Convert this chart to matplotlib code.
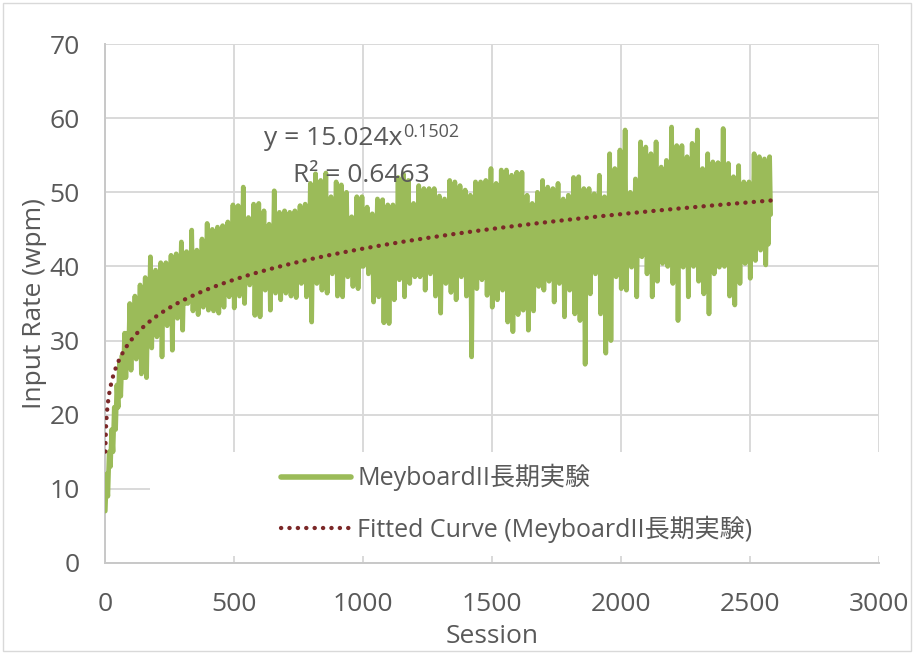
import numpy as np
import matplotlib
matplotlib.use("Agg")
import matplotlib.pyplot as plt
from matplotlib.patches import Rectangle
from matplotlib.lines import Line2D

# ---- data -------------------------------------------------------------
# Input rate per session, recorded every 20 sessions as four readings:
# the extreme trough, the upper edge of the dense band, the lower edge
# of the dense band and the extreme peak.
trough_wpm = [
    7.0, 13.0, 18.0, 22.5, 25.0, 26.0, 27.5, 25.5, 25.0, 29.0,
    30.5, 27.8, 32.0, 28.7, 33.0, 31.4, 35.0, 34.0, 33.5, 34.5,
    34.1, 34.0, 33.7, 34.5, 35.9, 34.4, 36.0, 35.0, 37.5, 33.4,
    33.2, 36.8, 34.1, 36.4, 35.5, 36.4, 36.0, 35.8, 37.7, 35.9,
    32.5, 37.7, 36.8, 36.4, 39.0, 36.0, 35.9, 38.6, 37.3, 37.0,
    40.0, 39.0, 35.2, 35.9, 32.4, 32.3, 35.5, 38.2, 35.9, 37.7,
    38.6, 38.6, 36.8, 39.0, 36.0, 33.7, 37.7, 36.5, 35.5, 38.6,
    36.0, 27.8, 37.0, 38.2, 36.1, 34.5, 35.5, 36.8, 32.5, 31.2,
    33.5, 34.1, 31.4, 34.0, 37.3, 36.8, 38.0, 35.2, 37.7, 33.2,
    36.8, 33.6, 32.7, 26.8, 36.3, 39.0, 33.6, 28.3, 30.0, 38.6,
    37.0, 36.8, 39.9, 35.9, 41.3, 39.0, 35.9, 38.0, 40.4, 40.0,
    37.7, 32.7, 39.9, 35.9, 40.0, 38.0, 36.3, 33.6, 39.0, 39.9,
    40.0, 36.0, 34.8, 37.7, 40.4, 38.4, 40.8, 42.2, 40.2,
]
band_top_wpm = [
    12.0, 18.0, 24.0, 28.0, 31.0, 33.0, 34.0, 35.0, 36.0, 37.0,
    38.0, 38.5, 39.0, 39.5, 40.0, 40.5, 41.0, 41.0, 41.5, 42.0,
    42.5, 42.5, 43.0, 43.0, 43.5, 44.0, 44.0, 44.5, 44.0, 44.5,
    44.5, 44.0, 45.0, 44.5, 45.0, 45.0, 45.0, 45.5, 45.5, 46.0,
    46.5, 46.0, 46.5, 46.0, 46.5, 46.5, 46.0, 45.5, 46.0, 46.0,
    45.5, 45.5, 46.0, 45.5, 45.5, 45.5, 46.5, 47.0, 47.0, 46.0,
    47.0, 46.5, 47.0, 47.0, 46.5, 46.5, 47.0, 47.0, 47.0, 47.0,
    47.0, 47.5, 47.5, 47.5, 48.0, 47.5, 48.0, 48.0, 48.0, 48.0,
    48.0, 47.5, 47.0, 47.5, 47.5, 47.5, 47.5, 48.0, 47.5, 47.5,
    48.0, 48.0, 47.5, 47.5, 48.0, 48.0, 47.5, 49.0, 49.0, 50.0,
    50.5, 49.0, 49.5, 50.5, 51.0, 51.0, 50.5, 50.0, 50.5, 51.5,
    51.0, 51.0, 50.5, 51.0, 51.5, 50.5, 51.0, 50.5, 50.5, 51.5,
    51.0, 50.0, 50.5, 50.0, 50.0, 51.0, 51.5, 51.5, 51.5,
]
band_bottom_wpm = [
    9.0, 15.0, 21.0, 25.0, 27.5, 29.0, 30.0, 31.0, 31.5, 32.0,
    33.0, 33.0, 34.0, 34.0, 35.0, 35.0, 36.0, 36.0, 36.5, 37.0,
    37.0, 37.0, 37.5, 37.5, 38.0, 38.0, 38.5, 38.5, 39.0, 38.5,
    38.5, 39.0, 39.0, 39.0, 39.5, 39.5, 39.5, 39.5, 40.0, 40.0,
    39.5, 40.0, 40.0, 40.0, 40.5, 40.0, 40.0, 40.5, 40.0, 40.0,
    40.5, 40.5, 40.0, 40.0, 39.5, 39.5, 40.0, 40.5, 40.0, 40.5,
    40.5, 40.5, 40.0, 40.5, 40.0, 40.0, 40.5, 40.5, 40.0, 40.5,
    40.0, 39.5, 40.5, 40.5, 40.5, 40.0, 40.5, 40.5, 40.0, 39.5,
    40.0, 40.0, 39.5, 40.0, 40.5, 40.5, 41.0, 40.5, 40.5, 40.0,
    40.5, 40.0, 40.0, 39.5, 40.5, 41.0, 40.5, 40.0, 40.0, 41.0,
    41.5, 41.0, 42.0, 41.5, 42.5, 42.0, 41.5, 42.0, 42.5, 42.5,
    42.0, 41.5, 42.5, 42.0, 42.5, 42.0, 42.0, 41.5, 42.0, 42.5,
    42.5, 42.0, 41.5, 42.0, 42.5, 42.5, 43.0, 43.5, 43.0,
]
peak_wpm = [
    15.0, 21.0, 27.0, 31.0, 35.0, 36.0, 37.5, 38.5, 41.3, 39.5,
    40.5, 40.5, 41.5, 41.7, 43.3, 42.0, 44.9, 42.2, 43.7, 45.8,
    45.0, 45.3, 45.5, 46.0, 48.3, 48.2, 50.7, 46.6, 48.4, 48.5,
    47.5, 45.7, 50.2, 47.3, 47.5, 47.3, 47.5, 48.2, 48.4, 51.2,
    52.5, 51.6, 52.6, 49.4, 51.4, 51.0, 50.0, 46.7, 49.4, 49.4,
    48.0, 47.1, 49.1, 49.0, 48.3, 48.3, 52.0, 52.5, 51.6, 48.5,
    50.9, 50.5, 50.5, 50.5, 49.5, 49.1, 51.6, 51.4, 50.9, 50.3,
    49.6, 51.4, 51.4, 51.6, 53.2, 51.2, 53.0, 53.0, 52.3, 52.7,
    52.7, 49.6, 48.5, 50.0, 51.6, 50.7, 50.5, 51.2, 49.1, 49.6,
    52.0, 52.1, 50.5, 50.5, 49.8, 52.3, 49.4, 55.2, 53.2, 55.7,
    58.4, 50.0, 51.8, 56.8, 56.1, 55.2, 56.8, 53.4, 54.3, 58.8,
    56.3, 56.3, 54.8, 56.6, 58.4, 53.2, 55.2, 54.1, 54.0, 58.6,
    53.9, 52.1, 53.6, 51.4, 51.4, 55.2, 54.8, 54.5, 54.8,
]
last_session = 2580
last_wpm = 47.0
sample_step = 20

# Power-law trend fitted to the series
fit_coef = 15.024
fit_exp = 0.1502
fit_r2 = 0.6463

series_label = "MeyboardII長期実験"
fit_label = "Fitted Curve (MeyboardII長期実験)"
x_ticks = [0, 500, 1000, 1500, 2000, 2500, 3000]
y_ticks = [0, 10, 20, 30, 40, 50, 60, 70]

# ---- build the session/value sequence ---------------------------------
sessions, wpm = [], []
quarter = sample_step // 4
for k, vals in enumerate(zip(trough_wpm, band_top_wpm, band_bottom_wpm, peak_wpm)):
    s0 = 1 + sample_step * k
    for j, v in enumerate(vals):
        sessions.append(s0 + j * quarter)
        wpm.append(v)
sessions.append(last_session)
wpm.append(last_wpm)

fit_x = np.linspace(1, last_session, 800)
fit_y = fit_coef * fit_x ** fit_exp

# ---- figure -----------------------------------------------------------
W, H = 918, 655
fig = plt.figure(figsize=(W / 100, H / 100), dpi=100)
fig.patch.set_facecolor("white")

def fx(px):
    return px / W

def fy(py):
    return 1 - py / H

ax = fig.add_axes([fx(105), fy(563), (879 - 105) / W, (563 - 44) / H])

GREEN = "#9BBB59"
DARKRED = "#7B2828"
GRID = "#D9D9D9"
TEXT = "#595959"
LATIN = "Open Sans"
MIXED = ["Open Sans", "Noto Sans CJK JP", "DejaVu Sans"]
DOTS = (0, (0.05, 1.9))

ax.plot(sessions, wpm, color=GREEN, lw=3.4, solid_joinstyle="round",
        solid_capstyle="round", zorder=3)
ax.plot(fit_x, fit_y, color=DARKRED, lw=3.1, linestyle=DOTS,
        dash_capstyle="round", zorder=4)

ax.set_xlim(0, 3000)
ax.set_ylim(0, 70)
ax.set_xticks(x_ticks)
ax.set_yticks(y_ticks)
ax.set_axisbelow(True)
ax.grid(True, color=GRID, lw=1.4)
ax.tick_params(length=0, labelcolor=TEXT, labelsize=19)
ax.tick_params(axis="x", pad=21)
ax.tick_params(axis="y", pad=18)
for lab in ax.get_xticklabels() + ax.get_yticklabels():
    lab.set_family(LATIN)

for side in ("top", "right"):
    ax.spines[side].set_visible(False)
for side in ("left", "bottom"):
    ax.spines[side].set_color("#C8C8C8")
    ax.spines[side].set_linewidth(1.4)

ax.set_xlabel("Session", family=LATIN, fontsize=19, color=TEXT, labelpad=5)
ax.set_ylabel("Input Rate (wpm)", family=LATIN, fontsize=19, color=TEXT, labelpad=2)

# legend area sits on a white panel inside the plot
ax.add_patch(Rectangle((45 / 774, 7 / 519), 742 / 774, 104 / 519,
                       transform=ax.transAxes, facecolor="white",
                       edgecolor="none", zorder=1, clip_on=False))
handles = [
    Line2D([], [], color=GREEN, lw=4.0, solid_capstyle="round"),
    Line2D([], [], color=DARKRED, lw=3.1, linestyle=DOTS,
           dash_capstyle="round"),
]
leg = fig.legend(handles, [series_label, fit_label], loc="upper left",
                 bbox_to_anchor=(fx(281), fy(464)), bbox_transform=fig.transFigure,
                 frameon=False, borderpad=0, borderaxespad=0,
                 handlelength=2.8, handletextpad=0.25, labelspacing=0.97,
                 prop={"family": MIXED, "size": 18})
for t in leg.get_texts():
    t.set_color(TEXT)

# trendline equation
fig.text(fx(402), fy(145), "y = 15.024x", family=LATIN, fontsize=19,
         color=TEXT, ha="right", va="baseline")
fig.text(fx(403), fy(137), f"{fit_exp:.4f}", family=LATIN, fontsize=13,
         color=TEXT, ha="left", va="baseline")
fig.text(fx(361.5), fy(182), f"R² = {fit_r2:.4f}", family=LATIN, fontsize=19,
         color=TEXT, ha="center", va="baseline")

# chart-area border
fig.add_artist(Rectangle((fx(3), fy(651)), (911 - 3) / W, (651 - 3) / H,
                         transform=fig.transFigure, facecolor="none",
                         edgecolor=GRID, lw=1.0))

fig.savefig("out.png", dpi=100, facecolor="white")
